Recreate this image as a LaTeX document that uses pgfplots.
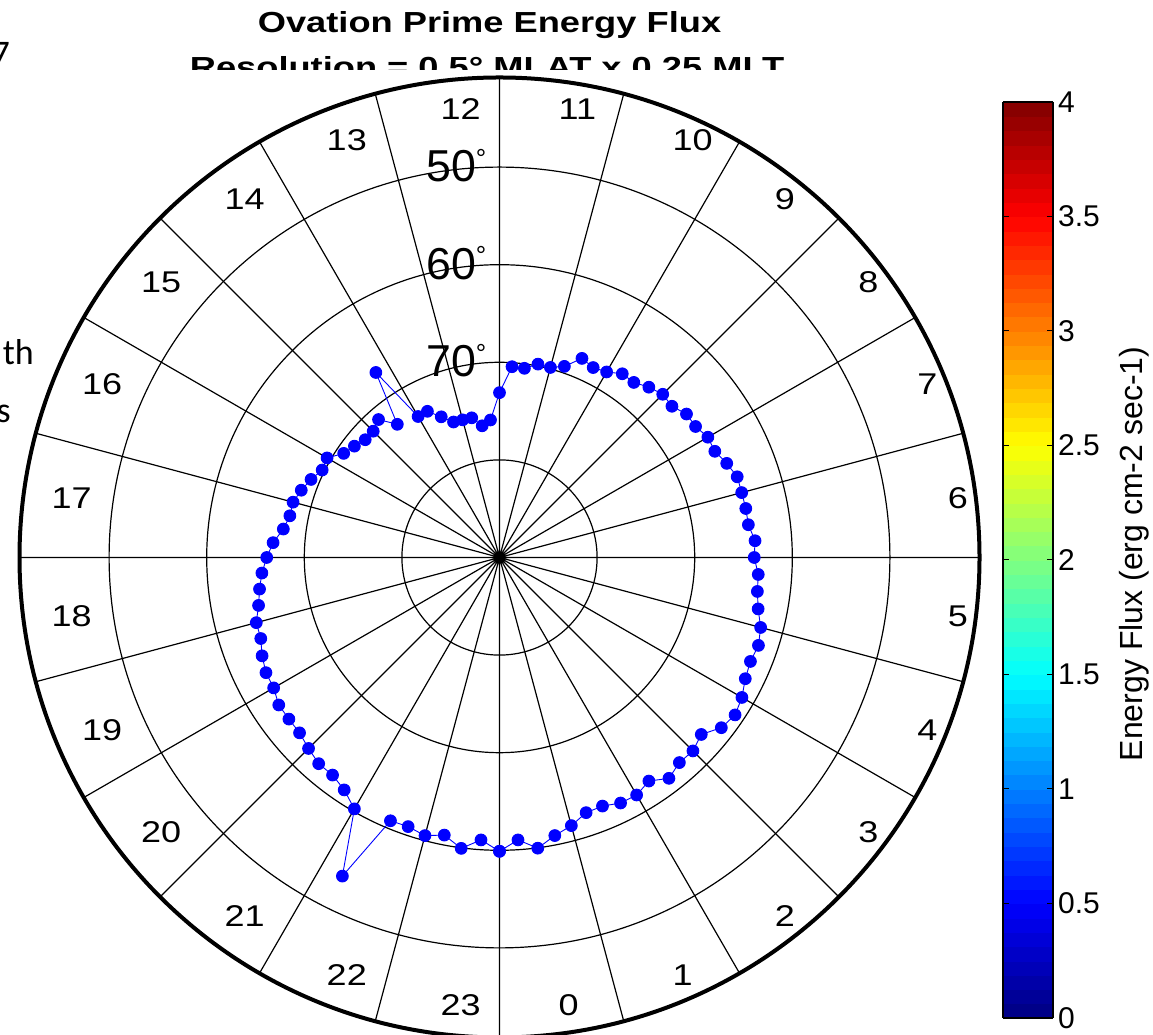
\documentclass[border=0pt]{standalone}
\usepackage{pgfplots}
\pgfplotsset{compat=1.18}
\usepackage{pgfplotstable}
\usepackage{fontspec}
\setmainfont{Liberation Sans}
\newfontfamily\widefont{Liberation Sans}[FakeStretch=1.2]
\newfontfamily\titlefont{Liberation Sans}[FakeStretch=1.25]
\newfontfamily\slidefont{Carlito}

\pgfplotstableread{
mlt mlat
0.00 59.90
0.25 61.00
0.50 59.96
0.75 60.95
1.00 61.56
1.25 62.39
1.50 62.43
1.75 61.95
2.00 61.90
2.25 62.45
2.50 61.48
2.75 62.05
3.00 61.97
3.25 62.50
3.50 61.35
3.75 60.97
4.00 61.32
4.25 61.92
4.50 62.17
4.75 61.98
5.00 62.30
5.25 62.98
5.50 63.35
5.75 63.43
6.00 63.90
6.25 63.76
6.50 64.28
6.75 64.27
7.00 64.31
7.25 64.28
7.50 64.80
7.75 65.40
8.00 65.35
8.25 65.84
8.50 65.85
8.75 66.50
9.00 66.35
9.25 66.79
9.50 67.39
9.75 67.36
10.00 68.05
10.25 68.30
10.50 67.92
10.75 69.32
11.00 69.84
11.25 69.80
11.50 70.45
11.75 70.41
12.00 73.11
12.25 75.88
12.50 76.39
12.75 75.41
13.00 75.40
13.25 75.34
13.50 74.40
13.75 73.30
14.00 73.32
14.25 67.20
14.50 72.80
14.75 71.20
15.00 71.70
15.25 71.70
15.50 71.26
15.75 70.80
16.00 69.60
16.25 69.74
16.50 69.10
16.75 68.55
17.00 68.10
17.25 68.10
17.50 67.66
17.75 66.75
18.00 66.15
18.25 65.60
18.50 65.20
18.75 64.83
19.00 64.20
19.25 64.17
19.50 63.67
19.75 63.32
20.00 63.28
20.25 62.80
20.50 62.80
20.75 62.75
21.00 62.33
21.25 61.90
21.50 61.90
21.75 61.36
22.00 60.26
22.25 53.60
22.50 60.80
22.75 60.88
23.00 60.50
23.25 61.00
23.50 59.94
23.75 61.00
24.00 59.90
}\ovaldata

\begin{document}
\begin{tikzpicture}
\path[use as bounding box] (0,0) rectangle (1153pt,1035pt);
\begin{axis}[
  at={(0,0)}, anchor=south west,
  width=1153pt, height=1035pt, scale only axis,
  xmin=0, xmax=1153, ymin=0, ymax=1035,
  hide axis, clip=false,
  colormap/jet, point meta min=0, point meta max=4,
  colorbar sampled,
  colorbar shift/.style={},
  colorbar style={
    at={(parent axis.south west)},
    anchor=south west,
    xshift=1003pt, yshift=17pt,
    scale only axis,
    width=50pt, height=916pt,
    samples=65,
    ymin=0, ymax=4,
    ytick={0,0.5,1,1.5,2,2.5,3,3.5,4},
    ytick pos=both, yticklabel pos=right,
    tick align=inside,
    major tick length=6pt,
    tick style={black, line width=1pt},
    axis line style={black, line width=1.1pt},
    /pgf/number format/assume math mode=true,
    yticklabel style={font=\fontsize{30}{30}\selectfont, inner xsep=5pt},
  },
]
% grid circles
\draw[black, line width=1.2pt] (axis cs:499.5,477.5) circle[radius=97.6pt];
\draw[black, line width=1.2pt] (axis cs:499.5,477.5) circle[radius=195.2pt];
\draw[black, line width=1.2pt] (axis cs:499.5,477.5) circle[radius=292.8pt];
\draw[black, line width=1.2pt] (axis cs:499.5,477.5) circle[radius=390.4pt];
% radial lines
\draw[black, line width=1.2pt] foreach \a in {0,15,...,345} {(axis cs:499.5,477.5) -- +(\a:480pt)};
% outer circle
\draw[black, line width=4pt] (axis cs:499.5,477.5) circle[radius=480pt];
% hour labels
\path foreach \h in {0,...,23} {(axis cs:499.5,477.5) ++({(\h-6)*15+7.5}:452pt) node[anchor=west, inner sep=0pt, font=\widefont\fontsize{30}{30}\selectfont] {\h}};
% ring labels
\node[anchor=base east, inner sep=0pt, font=\fontsize{44.7}{44.7}\selectfont] at (axis cs:486.5,658) {70\raisebox{14.5pt}{\fontsize{26}{26}\selectfont °}};
\node[anchor=base east, inner sep=0pt, font=\fontsize{44.7}{44.7}\selectfont] at (axis cs:486.5,755.8) {60\raisebox{14.5pt}{\fontsize{26}{26}\selectfont °}};
\node[anchor=base east, inner sep=0pt, font=\fontsize{44.7}{44.7}\selectfont] at (axis cs:486.5,853.4) {50\raisebox{14.5pt}{\fontsize{26}{26}\selectfont °}};
% data
\addplot[blue, line width=0.9pt, mark=*, mark size=5.9pt, mark options={fill=blue, draw=blue}]
  table[x expr={499.5+(90-\thisrow{mlat})*9.76*cos((\thisrow{mlt}-6)*15)},
        y expr={477.5+(90-\thisrow{mlat})*9.76*sin((\thisrow{mlt}-6)*15)}] {\ovaldata};
\end{axis}
% title
\node[anchor=base, inner sep=0pt, font=\titlefont\bfseries\fontsize{29}{29}\selectfont] at (489.5pt,1002pt) {Ovation Prime Energy Flux};
\begin{scope}
\clip (0pt,965pt) rectangle (1153pt,1035pt);
\node[anchor=base, inner sep=0pt, font=\titlefont\bfseries\fontsize{29}{29}\selectfont] at (487pt,957pt) {Resolution = 0.5° MLAT x 0.25 MLT};
\end{scope}
% colorbar label
\node[rotate=90, anchor=base, inner sep=0pt, font=\fontsize{32}{32}\selectfont] at (1142pt,481pt) {Energy Flux (erg cm-2 sec-1)};
% stray slide text fragments
\node[anchor=base east, inner sep=0pt, font=\slidefont\fontsize{36}{36}\selectfont] at (34pt,670pt) {th};
\node[anchor=base east, inner sep=0pt, font=\slidefont\fontsize{36}{36}\selectfont] at (11pt,612pt) {s};
\node[anchor=base east, inner sep=0pt, font=\slidefont\fontsize{36}{36}\selectfont] at (10pt,969pt) {7};
\end{tikzpicture}
\end{document}
